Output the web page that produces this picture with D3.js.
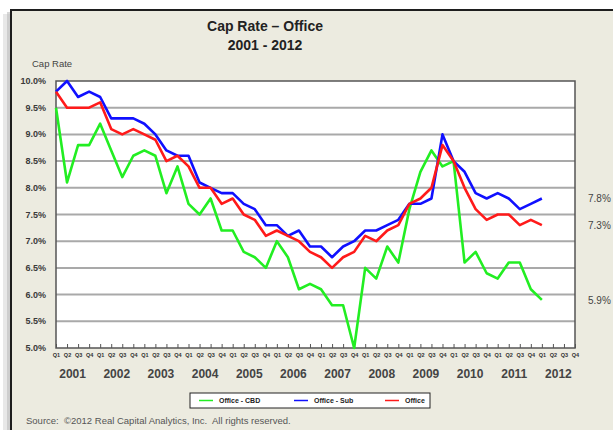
<!DOCTYPE html>
<html>
<head>
<meta charset="utf-8">
<script src="https://cdn.jsdelivr.net/npm/d3@7"></script>
<style>
  body { margin: 0; background: #fff; }
  svg { display: block; font-family: Arial, "Liberation Sans", sans-serif; }
</style>
</head>
<body>
<div class="chart"></div>
<script>
var width = 613;
var height = 430;

// quarters 2001 Q1 .. 2012 Q4
var years = ["2001","2002","2003","2004","2005","2006","2007","2008","2009","2010","2011","2012"];
var quarters = ["Q1","Q2","Q3","Q4"];
var yTicks = [5.0, 5.5, 6.0, 6.5, 7.0, 7.5, 8.0, 8.5, 9.0, 9.5, 10.0];

// values 2001 Q1 .. 2012 Q1
var cbd = [9.5, 8.1, 8.8, 8.8, 9.2, 8.7, 8.2, 8.6, 8.7, 8.6, 7.9, 8.4, 7.7, 7.5, 7.8, 7.2,
           7.2, 6.8, 6.7, 6.5, 7.0, 6.7, 6.1, 6.2, 6.1, 5.8, 5.8, 5.0, 6.5, 6.3, 6.9, 6.6,
           7.6, 8.3, 8.7, 8.4, 8.5, 6.6, 6.8, 6.4, 6.3, 6.6, 6.6, 6.1, 5.9];
var sub = [9.8, 10.0, 9.7, 9.8, 9.7, 9.3, 9.3, 9.3, 9.2, 9.0, 8.7, 8.6, 8.6, 8.1, 8.0, 7.9,
           7.9, 7.7, 7.6, 7.3, 7.3, 7.1, 7.2, 6.9, 6.9, 6.7, 6.9, 7.0, 7.2, 7.2, 7.3, 7.4,
           7.7, 7.7, 7.8, 9.0, 8.5, 8.3, 7.9, 7.8, 7.9, 7.8, 7.6, 7.7, 7.8];
var office = [9.8, 9.5, 9.5, 9.5, 9.6, 9.1, 9.0, 9.1, 9.0, 8.9, 8.5, 8.6, 8.4, 8.0, 8.0, 7.7,
              7.8, 7.5, 7.4, 7.1, 7.2, 7.1, 7.0, 6.8, 6.7, 6.5, 6.7, 6.8, 7.1, 7.0, 7.2, 7.3,
              7.7, 7.8, 8.0, 8.8, 8.5, 8.0, 7.6, 7.4, 7.5, 7.5, 7.3, 7.4, 7.3];

var seriesNames = ["Office - CBD", "Office - Sub", "Office"];
var seriesColors = ["#22ee22", "#1010ff", "#ff1a1a"];
var endLabels = ["5.9%", "7.8%", "7.3%"];

var keys = [];
years.forEach(function(y) { quarters.forEach(function(q) { keys.push(y + q); }); });

var svg = d3.select(".chart").append("svg")
    .attr("width", width)
    .attr("height", height);

// frame with a soft shadow on the left
svg.append("rect").attr("x", 3).attr("y", 14).attr("width", 10).attr("height", 430)
    .attr("fill", "#d8d8d8").attr("opacity", 0.6);
svg.append("rect").attr("x", 7).attr("y", 12).attr("width", 6).attr("height", 430)
    .attr("fill", "#bdbdbd").attr("opacity", 0.6);
svg.append("rect")
    .attr("x", 11).attr("y", 10)
    .attr("width", 640).attr("height", 440)
    .attr("fill", "#ecebe0")
    .attr("stroke", "#1e1e1e")
    .attr("stroke-width", 2);

var margin = {left: 56, right: 575, top: 81, bottom: 348};

var x = d3.scalePoint()
    .domain(keys)
    .range([margin.left, margin.right]);

var y = d3.scaleLinear()
    .domain([5, 10])
    .range([margin.bottom, margin.top]);

// plot area
svg.append("rect")
    .attr("x", margin.left).attr("y", margin.top)
    .attr("width", margin.right - margin.left)
    .attr("height", margin.bottom - margin.top)
    .attr("fill", "#fff");

svg.append("g")
    .attr("class", "grid")
  .selectAll("line")
  .data(yTicks.slice(1, -1))
  .enter().append("line")
    .attr("x1", margin.left).attr("x2", margin.right)
    .attr("y1", function(d) { return y(d); })
    .attr("y2", function(d) { return y(d); })
    .attr("stroke", "#a9a9a9")
    .attr("stroke-width", 2);

svg.append("rect")
    .attr("x", margin.left).attr("y", margin.top)
    .attr("width", margin.right - margin.left)
    .attr("height", margin.bottom - margin.top)
    .attr("fill", "none")
    .attr("stroke", "#555")
    .attr("stroke-width", 1.5);

// y axis labels
svg.append("g")
  .selectAll("text")
  .data(yTicks)
  .enter().append("text")
    .attr("x", 46)
    .attr("y", function(d) { return y(d) + 3; })
    .attr("text-anchor", "end")
    .attr("font-size", "9px")
    .attr("font-weight", "bold")
    .attr("fill", "#3a3a3a")
    .text(function(d) { return d.toFixed(1) + "%"; });

svg.append("text")
    .attr("x", 32).attr("y", 67)
    .attr("font-size", "9.5px")
    .attr("fill", "#444")
    .text("Cap Rate");

// x axis ticks and quarter labels
var xAxis = d3.axisBottom(x)
    .tickSize(-4)
    .tickFormat(function(d) { return d.slice(4); });

var gx = svg.append("g")
    .attr("transform", "translate(0," + margin.bottom + ")")
    .call(xAxis);
gx.select(".domain").remove();
gx.selectAll(".tick line").attr("stroke", "#555");
gx.selectAll(".tick text")
    .attr("y", 5)
    .attr("font-size", "5.5px")
    .attr("font-weight", "bold")
    .attr("fill", "#333")
    .attr("font-family", "Arial, sans-serif");

svg.append("g")
  .selectAll("text")
  .data(years)
  .enter().append("text")
    .attr("x", function(d) { return (x(d + "Q1") + x(d + "Q4")) / 2; })
    .attr("y", 378)
    .attr("text-anchor", "middle")
    .attr("font-size", "12px")
    .attr("font-weight", "bold")
    .attr("fill", "#444")
    .text(function(d) { return d; });

// lines
var line = d3.line()
    .x(function(d, i) { return x(keys[i]); })
    .y(function(d) { return y(d); });

svg.append("g")
    .attr("class", "lines")
  .selectAll("path")
  .data([cbd, sub, office])
  .enter().append("path")
    .attr("d", line)
    .attr("fill", "none")
    .attr("stroke", function(d, i) { return seriesColors[i]; })
    .attr("stroke-width", 2.6)
    .attr("stroke-linejoin", "round");

// end value labels
svg.append("g")
  .selectAll("text")
  .data([cbd, sub, office])
  .enter().append("text")
    .attr("x", 588)
    .attr("y", function(d) { return y(d[d.length - 1]) + 4; })
    .attr("font-size", "10px")
    .attr("fill", "#444")
    .text(function(d, i) { return endLabels[i]; });

// title
svg.append("text")
    .attr("x", 265).attr("y", 31)
    .attr("text-anchor", "middle")
    .attr("font-size", "14px")
    .attr("font-weight", "bold")
    .attr("fill", "#222")
    .text("Cap Rate \u2013 Office");
svg.append("text")
    .attr("x", 265).attr("y", 50)
    .attr("text-anchor", "middle")
    .attr("font-size", "14px")
    .attr("font-weight", "bold")
    .attr("fill", "#222")
    .text("2001 - 2012");

// legend
var legend = svg.append("g").attr("transform", "translate(190,393)");
legend.append("rect")
    .attr("width", 240).attr("height", 15)
    .attr("fill", "#fff")
    .attr("stroke", "#222")
    .attr("stroke-width", 1);
var legendX = [0, 95, 186];
var item = legend.selectAll(".item")
    .data(seriesNames)
  .enter().append("g")
    .attr("class", "item")
    .attr("transform", function(d, i) { return "translate(" + legendX[i] + ",0)"; });
item.append("line")
    .attr("x1", 9).attr("x2", 23)
    .attr("y1", 7.5).attr("y2", 7.5)
    .attr("stroke", function(d, i) { return seriesColors[i]; })
    .attr("stroke-width", 1.5);
item.append("text")
    .attr("x", 29).attr("y", 10)
    .attr("font-size", "7px")
    .attr("font-weight", "bold")
    .attr("fill", "#222")
    .text(function(d) { return d; });

svg.append("text")
    .attr("x", 26).attr("y", 424)
    .attr("font-size", "9.5px")
    .attr("fill", "#555")
    .attr("xml:space", "preserve")
    .text("Source:  \u00a92012 Real Capital Analytics, Inc.  All rights reserved.");
</script>
</body>
</html>
